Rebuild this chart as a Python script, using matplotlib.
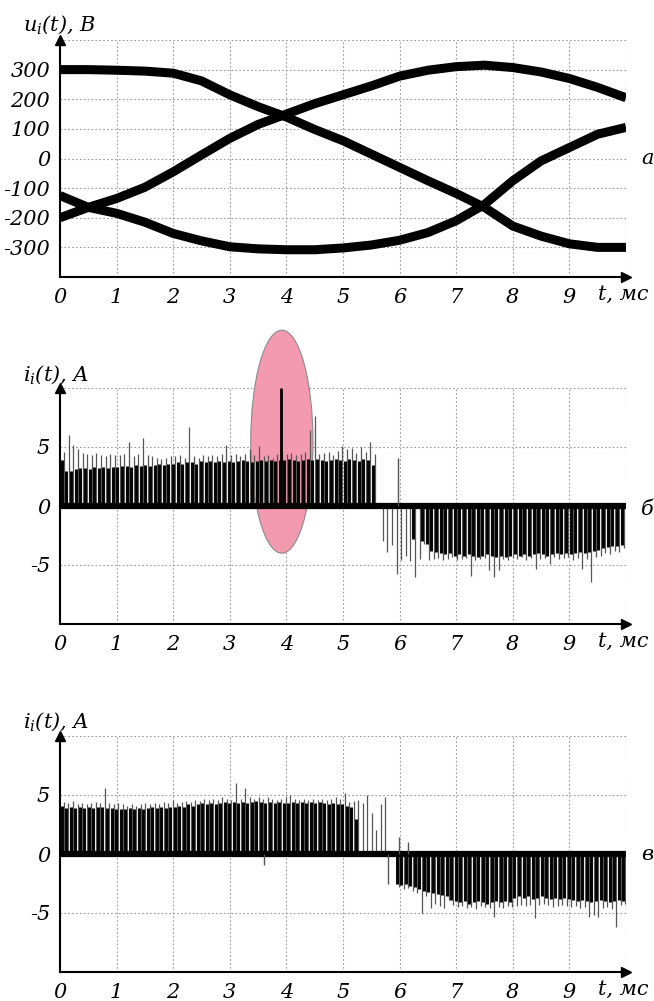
import numpy as np
import matplotlib
matplotlib.use("Agg")
import matplotlib.pyplot as plt
from matplotlib.patches import Ellipse

plt.rcParams['font.family'] = ['DejaVu Serif']
plt.rcParams['font.style'] = 'italic'
plt.rcParams['mathtext.fontset'] = 'dejavuserif'

# ---------------- data ----------------
# time axis (ms)
t_volt = [0, 0.5, 1, 1.5, 2, 2.5, 3, 3.5, 4, 4.5, 5, 5.5, 6, 6.5, 7, 7.5, 8, 8.5, 9, 9.5, 10]
u_phase1 = [300, 300, 298, 295, 288, 262, 215, 175, 140, 98, 60, 15, -30, -75, -118, -165, -228, -262, -288, -300, -300]
u_phase2 = [-200, -165, -135, -97, -45, 12, 68, 115, 150, 185, 215, 245, 278, 298, 310, 315, 307, 292, 270, 240, 205]
u_phase3 = [-125, -165, -185, -215, -253, -278, -298, -305, -308, -308, -302, -292, -276, -250, -210, -155, -75, -8, 37, 82, 105]

x_ticks = [0, 1, 2, 3, 4, 5, 6, 7, 8, 9]
u_ticks = [-300, -200, -100, 0, 100, 200, 300]
i_ticks = [-5, 0, 5]
t_range = [0, 10]

# panel б: pulse trains (start time, period, peak tip values, dark body values)
b_pos_start, b_pos_period = 0.03, 0.082
b_pos_peak = [4.6, 6.0, 5.2, 4.8, 4.5, 4.4, 4.3, 4.5, 4.3, 4.2, 4.4, 4.3,
              4.3, 4.4, 5.4, 4.2, 4.4, 5.8, 4.3, 4.2, 4.1, 4.0, 4.1, 4.2,
              4.2, 4.3, 4.1, 6.7, 4.2, 4.1, 4.3, 4.2, 4.3, 4.2, 4.4, 5.2,
              4.3, 4.4, 4.2, 4.4, 4.8, 4.3, 5.1, 4.2, 4.3, 4.1, 4.4, 4.5,
              4.4, 4.5, 4.3, 4.4, 4.6, 6.4, 7.6, 4.4, 4.5, 4.6, 4.3, 4.7,
              5.1, 4.8, 4.9, 4.5, 5.0, 4.6, 5.4, 4.4]
b_pos_body = [3.9, 3.0, 3.0, 3.1, 3.2, 3.2, 3.1, 3.3, 3.2, 3.3, 3.2, 3.3,
              3.3, 3.4, 3.4, 3.3, 3.5, 3.4, 3.5, 3.4, 3.5, 3.6, 3.5, 3.6,
              3.6, 3.7, 3.6, 3.7, 3.7, 3.6, 3.8, 3.7, 3.8, 3.7, 3.8, 3.7,
              3.8, 3.7, 3.8, 3.9, 3.8, 3.7, 3.8, 3.9, 3.8, 3.9, 3.8, 3.9,
              3.9, 4.0, 3.9, 3.8, 3.9, 4.0, 3.9, 4.0, 3.9, 3.8, 3.9, 4.0,
              3.9, 3.8, 4.0, 3.9, 3.8, 4.0, 3.9, 3.5]
b_neg_start, b_neg_period = 5.66, 0.082
b_neg_peak = [-3.0, -3.9, -3.3, -5.8, -4.6, -4.2, -4.7, -6.0, -4.5, -3.2,
              -4.6, -4.5, -4.4, -4.6, -4.5, -4.3, -4.6, -4.5, -4.4, -5.9,
              -4.6, -4.5, -4.4, -5.4, -6.0, -5.4, -4.5, -4.6, -4.4, -4.5,
              -4.3, -4.6, -4.4, -5.3, -4.5, -4.4, -4.9, -4.3, -4.5, -4.4,
              -4.3, -4.6, -4.4, -5.3, -4.5, -6.4, -4.3, -4.2, -4.0, -4.1,
              -3.8, -3.9, -3.6]
b_neg_body = [0, 0, 0, 0, 0, 0, 0, -2.8, 0, -3.0,
              -3.2, -3.8, -3.9, -4.0, -4.1, -4.0, -4.2, -4.1, -4.2, -4.1,
              -4.2, -4.3, -4.2, -4.1, -4.2, -4.3, -4.2, -4.3, -4.2, -4.1,
              -4.2, -4.1, -4.2, -4.1, -4.0, -4.1, -4.2, -4.1, -4.0, -4.1,
              -4.0, -4.1, -4.0, -3.9, -4.0, -3.9, -3.8, -3.7, -3.6, -3.5,
              -3.4, -3.4, -3.3]
b_extra_t = [3.91, 5.97]
b_extra_v = [10.0, 4.1]
b_extra_color = ['black', '#555555']
ellipse_center = (3.92, 5.45)
ellipse_size = (1.10, 18.9)

# panel в
c_pos_start, c_pos_period = 0.03, 0.08
c_pos_peak = [4.4, 4.3, 4.5, 4.2, 4.3, 4.2, 4.3, 4.4, 4.3, 5.6, 4.3, 4.2, 4.3,
              4.2, 4.1, 4.2, 4.1, 4.2, 4.3, 4.2, 4.3, 4.2, 4.4, 4.3, 4.6,
              4.3, 4.4, 4.5, 4.4, 4.6, 4.5, 4.7, 4.6, 4.7, 4.6, 4.8, 4.7, 4.6,
              6.0, 4.7, 5.6, 4.8, 4.7, 4.8, 4.7, 4.8, 4.7, 4.6, 4.7, 4.8,
              5.0, 4.7, 4.6, 4.7, 4.6, 4.7, 4.6, 4.7, 4.6, 4.7, 4.8, 4.7,
              5.2, 4.4, 4.5, 4.6, 4.3, 5.0, 3.5, 2.0, 4.2, 4.8]
c_pos_body = [4.1, 3.9, 4.0, 3.9, 4.0, 3.9, 4.0, 3.9, 4.0, 4.0, 3.9, 3.9, 3.8,
              3.8, 3.8, 3.9, 3.8, 3.9, 3.8, 3.9, 4.0, 3.9, 4.0, 3.9, 4.0,
              4.0, 4.1, 4.0, 4.2, 4.1, 4.2, 4.3, 4.2, 4.3, 4.2, 4.3, 4.4, 4.3,
              4.4, 4.3, 4.4, 4.3, 4.4, 4.5, 4.4, 4.3, 4.4, 4.3, 4.4, 4.3,
              4.3, 4.4, 4.3, 4.4, 4.3, 4.4, 4.3, 4.4, 4.3, 4.2, 4.3, 4.2,
              4.2, 4.1, 4.0, 3.0, 0, 0, 0, 0, 0, 0]
c_neg_start, c_neg_period = 5.95, 0.08
c_neg_peak = [-2.8, -3.0, -2.9, -3.1, -3.3, -5.0, -3.6, -4.6, -4.2, -4.4,
              -4.6, -3.9, -4.3, -4.5, -4.4, -4.6, -4.5, -4.7, -4.4, -4.5,
              -4.6, -5.3, -4.5, -4.6, -4.4, -4.5, -4.4, -4.3, -4.4, -4.3,
              -5.4, -4.3, -4.2, -4.3, -4.5, -4.4, -4.3, -4.4, -4.5, -4.4,
              -4.6, -4.5, -5.3, -5.2, -5.3, -4.6, -4.5, -4.7, -6.2, -4.3,
              -4.2]
c_neg_body = [-2.5, -2.6, -2.5, -2.7, -2.8, -3.0, -3.1, -3.2, -3.3, -3.4,
              -3.5, -3.6, -3.9, -4.0, -4.1, -4.0, -4.2, -4.1, -4.0, -4.1,
              -4.2, -4.1, -4.0, -4.1, -4.0, -4.1, -3.7, -3.6, -3.7, -3.6,
              -3.8, -3.7, -3.6, -3.7, -3.8, -3.7, -3.8, -3.7, -3.8, -3.9,
              -4.0, -3.9, -4.0, -4.1, -4.0, -3.9, -4.0, -4.1, -4.0, -3.9,
              -4.0]
c_extra_t = [3.60, 5.80, 5.99, 6.14]
c_extra_v = [-0.9, -2.5, 1.4, 1.0]

# ---------------- figure ----------------
W, H = 654, 1001
fig = plt.figure(figsize=(W / 100, H / 100), dpi=100)

def px_axes(top, bottom, left=60, right=626):
    return fig.add_axes([left / W, 1 - bottom / H, (right - left) / W, (bottom - top) / H])

ax_a = px_axes(40, 277)
ax_b = px_axes(388, 624)
ax_c = px_axes(736, 972)

FS = 15
GRID = dict(color='#9a9a9a', lw=0.8, ls=(0, (1.5, 2)), zorder=0)

def style(ax, ylim, yticks, ylabel_txt, ylabel_y, panel_txt, panel_y):
    ax.set_xlim(0, 10)
    ax.set_ylim(*ylim)
    ax.set_xticks(x_ticks)
    ax.set_yticks(yticks)
    ax.set_xticklabels([str(v) for v in x_ticks], fontsize=FS, style='italic')
    ax.set_yticklabels([str(v) for v in yticks], fontsize=FS, style='italic')
    ax.tick_params(length=0, pad=7)
    ax.tick_params(axis='x', pad=8)
    for s in ('top', 'right'):
        ax.spines[s].set_visible(False)
    for s in ('left', 'bottom'):
        ax.spines[s].set_linewidth(1.5)
        ax.spines[s].set_zorder(6)
    for v in x_ticks[1:] + [10]:
        ax.axvline(v, **GRID)
    for v in yticks + [ylim[1]]:
        ax.axhline(v, **GRID)
    ax.plot(0, 1, marker='^', color='black', ms=7, transform=ax.transAxes, clip_on=False, zorder=6)
    ax.plot(1, 0, marker='>', color='black', ms=7, transform=ax.transAxes, clip_on=False, zorder=6)
    ax.text(9.5, -0.075, 't, мс', transform=ax.get_xaxis_transform(), fontsize=FS,
            style='italic', ha='left', va='center')
    fig.text(23 / W, 1 - ylabel_y / H, ylabel_txt, fontsize=FS, style='italic', ha='left', va='center')
    ax.text(10.27, panel_y, panel_txt, fontsize=FS, style='italic', ha='left', va='center')

# panel а
for u in (u_phase1, u_phase2, u_phase3):
    ax_a.plot(t_volt, u, color='black', lw=6.5, solid_capstyle='butt', zorder=3)
style(ax_a, (-400, 400), u_ticks, r'$\mathit{u_i(t)}$, В', 25, 'а', 0)

def pulses(ax, start, period, peak, body):
    t = start + period * np.arange(len(peak))
    ax.vlines(t + 0.04, 0, peak, colors='#555555', lw=0.9, zorder=3)
    ax.vlines(t, 0, body, colors='black', lw=2.1, zorder=4)

# panel б
ax_b.add_patch(Ellipse(ellipse_center, ellipse_size[0], ellipse_size[1], facecolor='#f49ab0',
                       edgecolor='#8a8a8a', lw=0.8, zorder=1, clip_on=False))
pulses(ax_b, b_pos_start, b_pos_period, b_pos_peak, b_pos_body)
pulses(ax_b, b_neg_start, b_neg_period, b_neg_peak, b_neg_body)
ax_b.vlines(b_extra_t, 0, b_extra_v, colors=b_extra_color, lw=[2.0, 1.0], zorder=5)
ax_b.plot(t_range, [0, 0], color='black', lw=4.5, zorder=4)
style(ax_b, (-10, 10), i_ticks, r'$\mathit{i_i(t)}$, А', 375, 'б', -0.3)

# panel в
pulses(ax_c, c_pos_start, c_pos_period, c_pos_peak, c_pos_body)
pulses(ax_c, c_neg_start, c_neg_period, c_neg_peak, c_neg_body)
ax_c.vlines(c_extra_t, 0, c_extra_v, colors='#555555', lw=1.0, zorder=5)
ax_c.plot(t_range, [0, 0], color='black', lw=4.5, zorder=4)
style(ax_c, (-10, 10), i_ticks, r'$\mathit{i_i(t)}$, А', 722, 'в', 0)

fig.savefig('out.png', dpi=100)
